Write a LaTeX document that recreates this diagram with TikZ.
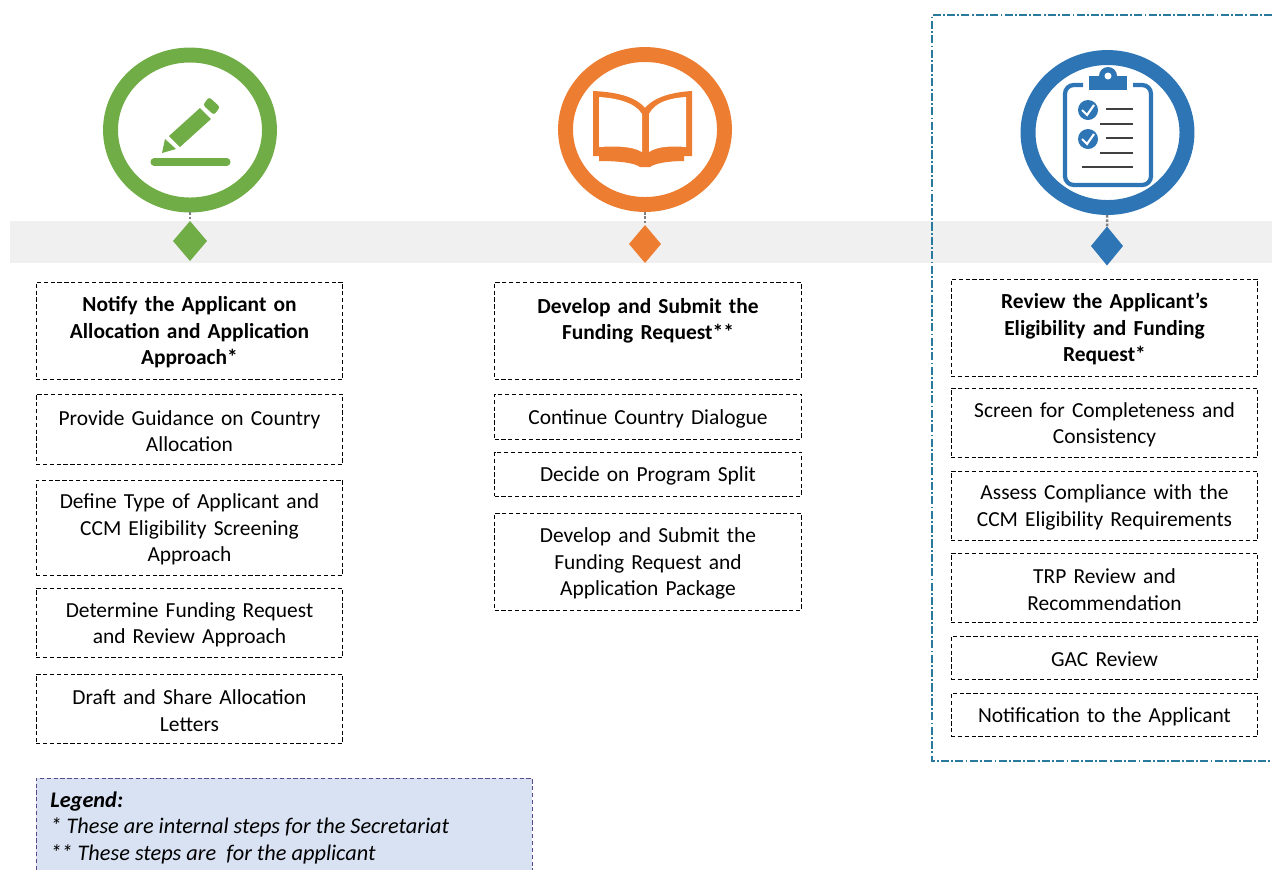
\documentclass[tikz,border=0pt]{standalone}
\usepackage{fontspec}
\setmainfont{Carlito}
\usepackage{xcolor}
\usetikzlibrary{shapes.geometric}
\definecolor{notify}{HTML}{70AD47}
\definecolor{develop}{HTML}{ED7D31}
\definecolor{review}{HTML}{2E75B6}
\definecolor{frameline}{HTML}{2A7A9E}
\definecolor{band}{HTML}{F0F0F0}
\definecolor{legendfill}{HTML}{D9E2F3}
\definecolor{legendline}{HTML}{5B4A8A}
\definecolor{inkline}{HTML}{404040}
\tikzset{
  stepbox/.style={draw,line width=0.55pt,dash pattern=on 2.4pt off 1.5pt,inner sep=0pt,outer sep=0pt,
    text width=6.14cm,align=center,font=\fontsize{12.2}{15}\selectfont,minimum height=#1*0.02cm,
    execute at begin node={\rule{0pt}{10.7pt}}},
  ring/.style={ellipse,draw=#1,line width=8.5pt,fill=white,minimum width=3.18cm,minimum height=3cm,inner sep=0pt,outer sep=4.25pt},
  marker/.style={diamond,fill=#1,inner sep=0pt,outer sep=0pt,minimum width=0.68cm,minimum height=0.8cm},
  stem/.style={draw=gray,line width=1.5pt,dash pattern=on 1.5pt off 1pt},
}
\begin{document}
\begin{tikzpicture}[x=0.02cm,y=-0.02cm]
  \useasboundingbox (0,0) rectangle (1272,870);
  \fill[band] (10,221) rectangle (1272,263);

  \path
  (190,130) node[ring=notify](notifyring) {}
  (645,129.5) node[ring=develop](developring) {}
  (1107.5,132.5) node[ring=review](reviewring) {}
  (190,241) node[marker=notify](notifymark) {}
  (645,244) node[marker=develop,minimum width=0.64cm,minimum height=0.76cm](developmark) {}
  (1107,246) node[marker=review,minimum width=0.64cm,minimum height=0.78cm](reviewmark) {}
  ;

  \draw[stem] (notifyring) -- (notifymark);
  \draw[stem] (developring) -- (developmark);
  \draw[stem] (reviewring) -- (reviewmark);

  \fill[notify] (169,136) -- (200,108) -- (211,119) -- (180,147) -- cycle;
  \fill[notify,rounded corners=1.5pt] (203,105) -- (209,97) -- (220,107) -- (214,115) -- cycle;
  \fill[notify] (165,139) -- (176,149) -- (162,153) -- cycle;
  \draw[notify,line width=4pt,line cap=round] (154,162) -- (227,162);

  \fill[develop] (593,91) .. controls (615,92) and (635,96) .. (645,108)
    .. controls (655,96) and (675,92) .. (692,91) -- (692,156) -- (684,156) -- (684,161)
    .. controls (670,161) and (655,163) .. (650,167) -- (640,167)
    .. controls (635,163) and (620,161) .. (599,161) -- (599,156) -- (593,156) -- cycle;
  \fill[white] (599,97) .. controls (615,98) and (635,102) .. (642,114) -- (642,152)
    .. controls (632,146) and (615,146) .. (599,147) -- cycle;
  \fill[white] (686,97) .. controls (670,98) and (655,102) .. (649,114) -- (649,152)
    .. controls (658,146) and (672,146) .. (686,147) -- cycle;

  \draw[review,line width=2.4pt,rounded corners=5pt] (1083,85) -- (1065,85) -- (1065,185) -- (1151,185) -- (1151,85) -- (1133,85);
  \fill[review] (1089,76) rectangle (1127,90);
  \fill[review] (1108,76) circle[radius=9];
  \fill[white] (1108,76) circle[radius=3.5];
  \foreach \cy in {110,139} {
    \fill[review] (1088,\cy) circle[radius=10];
    \draw[white,line width=1.2pt] (1082,\cy) -- (1087,\cy+5) -- (1094,\cy-5);
  }
  \foreach \lx/\ly in {1106/109,1100/124,1106/138,1100/153,1082/167} {
    \draw[inkline,line width=0.9pt] (\lx,\ly) -- (1133,\ly);
  }

  \path
  (189.5,330.5) node[stepbox=97](notifyhead) {\textbf{Notify the Applicant on}\\\textbf{Allocation and Application}\\\textbf{Approach*}}
  (189.5,429) node[stepbox=70](guidance) {Provide Guidance on Country\\Allocation}
  (189.5,527.5) node[stepbox=95](applicant) {Define Type of Applicant and\\CCM Eligibility Screening\\Approach}
  (189.5,622.5) node[stepbox=69](approach) {Determine Funding Request\\and Review Approach}
  (189.5,708.5) node[stepbox=69](letters) {Draft and Share Allocation\\Letters}
  (648,330.5) node[stepbox=97](develophead) {\textbf{Develop and Submit the}\\\textbf{Funding Request**}\\~}
  (648,416.5) node[stepbox=45](dialogue) {Continue Country Dialogue}
  (648,474) node[stepbox=44](split) {Decide on Program Split}
  (648,561.5) node[stepbox=97](package) {Develop and Submit the\\Funding Request and\\Application Package}
  (1104.5,327.5) node[stepbox=97](reviewhead) {\textbf{Review the Applicant’s}\\\textbf{Eligibility and Funding}\\\textbf{Request*}}
  (1104.5,422.5) node[stepbox=69](screen) {Screen for Completeness and\\Consistency}
  (1104.5,505.5) node[stepbox=69](comply) {Assess Compliance with the\\CCM Eligibility Requirements}
  (1104.5,587.5) node[stepbox=69](trp) {TRP Review and\\Recommendation}
  (1104.5,657.5) node[stepbox=43](gac) {GAC Review}
  (1104.5,714.5) node[stepbox=43](notice) {Notification to the Applicant}
  ;

  \draw[frameline,line width=0.6pt,dash pattern=on 4.6pt off 1.3pt on 1pt off 1.3pt] (1272,15) -- (932,15) -- (932,761) -- (1272,761);

  \fill[legendfill] (36,778) rectangle (532,870);
  \draw[legendline,line width=0.55pt,dash pattern=on 2.4pt off 1.5pt] (36,870) -- (36,778) -- (532,778) -- (532,870);
  \node[anchor=north west,align=left,inner sep=0pt,font=\fontsize{12.7}{15.2}\selectfont\itshape] (legend) at (50,791)
    {\textbf{Legend:}\\* These are internal steps for the Secretariat\\** These steps are\ \ for the applicant};
\end{tikzpicture}
\end{document}
